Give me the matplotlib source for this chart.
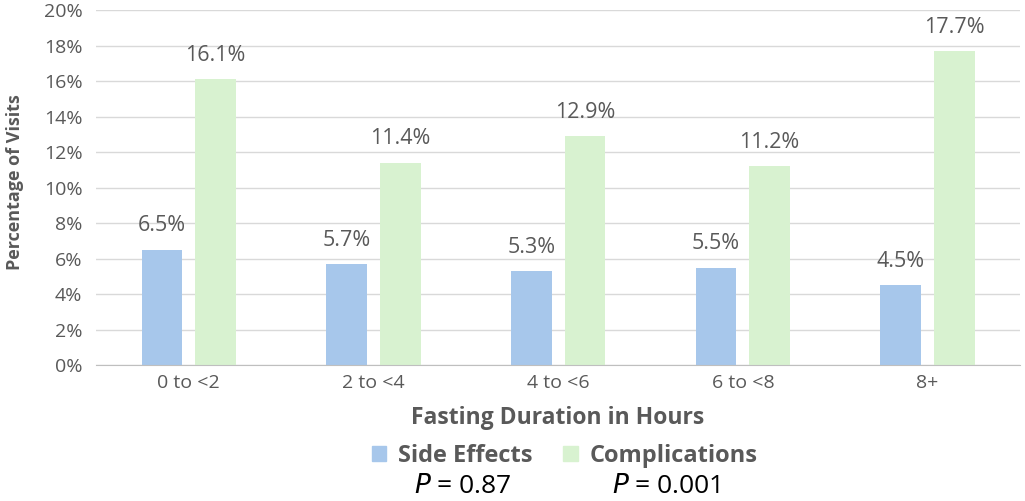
import numpy as np
from matplotlib import pyplot as plt
from matplotlib.patches import Patch
from matplotlib.ticker import PercentFormatter

categories = ["0 to <2", "2 to <4", "4 to <6", "6 to <8", "8+"]
side_effects = [6.5, 5.7, 5.3, 5.5, 4.5]
complications = [16.1, 11.4, 12.9, 11.2, 17.7]
series_names = ["Side Effects", "Complications"]
p_values = ["0.87", "0.001"]

plt.rcParams['font.family'] = ['Open Sans', 'DejaVu Sans']
gray = "#595959"
blue = "#A7C7EB"
green = "#D8F2D0"

fig = plt.figure(figsize=(10.25, 5.01), dpi=100)
ax = fig.add_axes([0.094, 0.271, 0.901, 0.709])

x = np.arange(len(categories))
w = 0.22
gap = 0.07
off = (w + gap) / 2
b1 = ax.bar(x - off, side_effects, w, color=blue)
b2 = ax.bar(x + off, complications, w, color=green)

for bars, vals in [(b1, side_effects), (b2, complications)]:
    for b, v in zip(bars, vals):
        ax.text(b.get_x() + b.get_width() / 2, v + 0.75, f"{v:.1f}%",
                ha="center", va="bottom", fontsize=15.5, color=gray)

ax.set_xlim(-0.5, len(categories) - 0.5)
ax.set_ylim(0, 20)
ax.set_yticks(np.arange(0, 21, 2))
ax.yaxis.set_major_formatter(PercentFormatter(decimals=0))
ax.set_xticks(x)
ax.set_xticklabels(categories)
ax.tick_params(axis="both", length=0, labelsize=14, labelcolor=gray)
ax.tick_params(axis="x", pad=6)
ax.tick_params(axis="y", pad=10)
ax.grid(axis="y", color="#D9D9D9", linewidth=1)
ax.set_axisbelow(True)
for s in ["top", "right", "left"]:
    ax.spines[s].set_visible(False)
ax.spines["bottom"].set_color("#BFBFBF")

ax.set_xlabel("Fasting Duration in Hours", fontsize=16.5, fontweight="bold",
              color=gray, labelpad=10.5)
ax.set_ylabel("Percentage of Visits", fontsize=13, fontweight="bold",
              color=gray, labelpad=14, y=0.515)

handles = [Patch(color=blue), Patch(color=green)]
leg = fig.legend(handles, series_names, loc="center", bbox_to_anchor=(0.551, 0.09),
                 ncol=2, frameon=False, fontsize=17, handlelength=0.6,
                 handleheight=0.6, handletextpad=0.5, columnspacing=1.3)
for t in leg.get_texts():
    t.set_color(gray)
    t.set_fontweight("bold")

# p-values sit under each legend entry
fig.text(0.451, 0.028, r"$P$ = " + p_values[0], ha="center", va="center",
         fontsize=19, color="black")
fig.text(0.65, 0.028, r"$P$ = " + p_values[1], ha="center", va="center",
         fontsize=19, color="black")

fig.savefig("out.png", dpi=100)
